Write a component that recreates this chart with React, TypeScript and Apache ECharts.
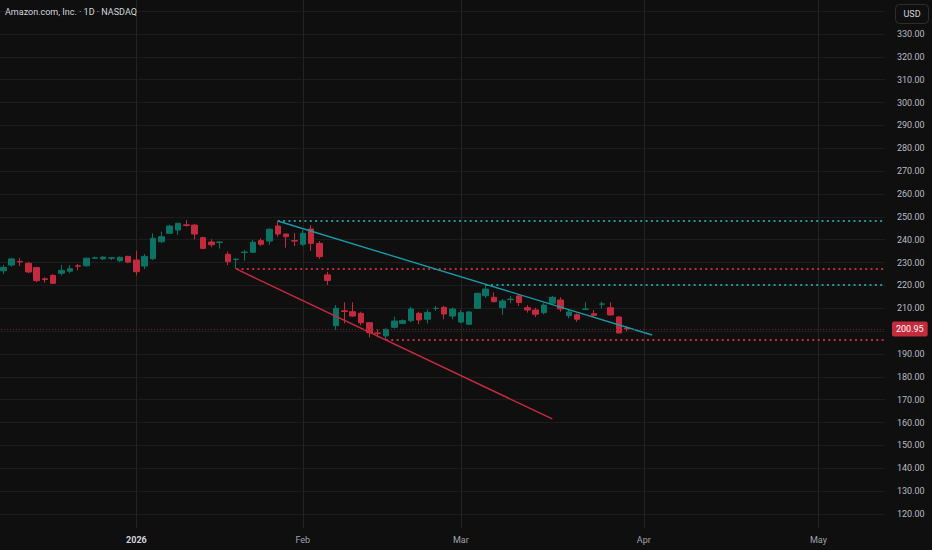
import React, { useEffect, useRef } from "react";
import * as echarts from "echarts";

// ---------- data ----------
const titleText = "Amazon.com, Inc. · 1D · NASDAQ";
const currencyText = "USD";

const holidays = ["2025-12-25", "2026-01-01", "2026-01-19", "2026-02-16", "2026-04-03"];
const firstCategoryDay = "2025-12-08"; // one bar left of the first visible candle
const categoryCount = 108; // through 2026-05-13 (right edge)
const firstCandleDay = "2025-12-09";

const monthNames = ["Jan", "Feb", "Mar", "Apr", "May", "Jun", "Jul", "Aug", "Sep", "Oct", "Nov", "Dec"];

const opens = [
  226.4, 228.9, 230.5, 229.7, 227.8, 222.9, 224.4, 225.3, 226.2, 228.6, 228.6, 231.9, 231.6, 231.9, 230.8, 232.7,
  231.1, 228.5, 231.7, 239.1, 242.8, 244.25, 246.5, 246.4, 240.9, 239.0, 238.8, 233.6, 231.3, 234.4, 234.5, 239.6, 239.4, 246.0, 242.5, 239.6,
  238.0, 244.7, 238.4, 224.6, 202.4, 208.9, 208.5, 207.8, 203.7, 199.2, 197.9, 201.7, 203.4, 204.6, 207.8, 205.2, 209.9, 210.4, 206.6,
  204.0, 203.0, 210.0, 215.5, 214.8, 210.3, 213.8, 215.4, 210.25, 209.25, 208.1, 212.2, 213.6, 206.8, 207.2, 209.5, 207.6, 211.8, 210.25, 206.2, 201.3,
];
const closes = [
  227.9, 231.6, 230.3, 225.9, 222.1, 222.6, 220.9, 226.6, 227.3, 228.4, 231.9, 232.1, 232.4, 232.1, 232.3, 230.2,
  226.0, 232.7, 240.6, 241.3, 246.0, 247.2, 246.2, 242.5, 236.2, 237.8, 239.0, 230.4, 231.5, 234.6, 238.9, 238.0, 244.6, 242.5, 241.3, 239.4,
  242.8, 238.4, 232.6, 222.2, 210.0, 208.6, 206.6, 203.7, 199.3, 199.0, 200.8, 204.4, 204.6, 209.7, 204.9, 208.2, 210.0, 207.5, 209.7,
  208.1, 208.4, 216.55, 218.4, 212.9, 213.2, 214.0, 212.5, 209.25, 207.4, 211.4, 214.8, 209.7, 208.4, 205.2, 209.7, 206.9, 211.9, 207.1, 199.2, 200.95,
];
const lows = [
  225.0, 228.2, 228.5, 225.3, 221.4, 221.2, 220.6, 224.3, 225.3, 226.6, 228.2, 231.7, 231.1, 231.1, 230.2, 229.7,
  224.4, 227.1, 231.1, 238.6, 242.5, 242.1, 245.7, 240.2, 235.9, 236.7, 236.1, 228.9, 227.2, 230.8, 234.2, 237.25, 237.7, 241.3, 236.5, 237.25,
  237.25, 235.1, 231.6, 220.2, 200.5, 203.4, 206.3, 202.6, 197.3, 197.3, 196.1, 201.2, 203.0, 203.9, 203.0, 203.4, 208.8, 205.2, 205.2,
  203.4, 202.6, 209.7, 214.5, 212.6, 207.1, 212.2, 211.0, 208.1, 206.1, 207.4, 211.9, 208.5, 205.6, 204.1, 209.25, 206.3, 210.0, 206.8, 199.0, 199.9,
];
const highs = [
  228.9, 232.1, 231.9, 230.2, 228.2, 223.5, 224.9, 228.9, 228.9, 229.4, 232.1, 232.6, 232.7, 232.4, 232.7, 233.0,
  235.2, 233.75, 242.8, 243.5, 246.6, 247.4, 248.6, 246.9, 241.3, 240.2, 239.4, 234.8, 231.9, 235.5, 239.9, 240.6, 245.0, 248.2, 242.6, 242.9,
  244.25, 246.4, 239.4, 226.0, 211.4, 212.6, 212.6, 208.5, 204.0, 200.8, 201.2, 206.3, 205.2, 210.7, 208.5, 209.5, 211.0, 211.1, 210.4,
  209.25, 208.7, 216.8, 220.2, 217.0, 214.1, 215.4, 216.25, 211.4, 210.25, 212.2, 215.4, 214.8, 209.5, 207.8, 212.6, 209.25, 212.9, 212.6, 206.6, 202.2,
];

// horizontal levels (start date, value) extending to the right edge
const levelStarts = ["2026-01-28", "2026-01-21", "2026-03-05", "2026-02-17"];
const levelValues = [248.2, 227.2, 220.2, 196.1];
const levelKinds = ["teal", "red", "teal", "red"];

// trend lines
const trendStarts = ["2026-01-28", "2026-01-21"];
const trendStartValues = [248.2, 227.2];
const trendEnds = ["2026-04-02", "2026-03-17"];
const trendEndValues = [198.3, 161.6];
const trendKinds = ["teal", "red"];

// ---------- helpers ----------
function tradingDays(start: string, count: number, skip: string[]): string[] {
  const out: string[] = [];
  const d = new Date(start + "T00:00:00Z");
  while (out.length < count) {
    const dow = d.getUTCDay();
    const s = d.toISOString().slice(0, 10);
    if (dow !== 0 && dow !== 6 && skip.indexOf(s) < 0) out.push(s);
    d.setUTCDate(d.getUTCDate() + 1);
  }
  return out;
}

const categories = tradingDays(firstCategoryDay, categoryCount, holidays);

const COLORS = {
  bg: "#0f0f0f",
  grid: "#1c1c1c",
  vgrid: "#232323",
  up: "#0b7363",
  down: "#c42a3d",
  teal: "#1a98a6",
  red: "#c62b3d",
  text: "#b8bbc2",
  title: "#d1d4dc",
  priceLine: "#6a2129",
};

const FONT = "Roboto, 'Noto Sans', sans-serif";
const SHIFT = 5; // canvas starts SHIFT px left of the page so the first bar sits at the edge

function isMonthStart(idx: number): boolean {
  if (idx <= 0) return false;
  return categories[idx].slice(0, 7) !== categories[idx - 1].slice(0, 7);
}

export default function App() {
  const ref = useRef<HTMLDivElement>(null);

  useEffect(() => {
    if (!ref.current) return;
    const chart = echarts.init(ref.current, undefined, { renderer: "svg" });

    const startIdx = categories.indexOf(firstCandleDay);
    const candleData: any[] = categories.map((_, k) => {
      const i = k - startIdx;
      if (i < 0 || i >= opens.length) return "-";
      return [opens[i], closes[i], lows[i], highs[i]];
    });
    const lastClose = closes[closes.length - 1];
    const lastCat = categories[categories.length - 1];

    const levelSeries = levelStarts.map((d, k) => ({
      type: "line",
      silent: true,
      symbol: "none",
      z: 3,
      data: [
        [d, levelValues[k]],
        [lastCat, levelValues[k]],
      ],
      lineStyle: {
        color: levelKinds[k] === "teal" ? COLORS.teal : COLORS.red,
        width: 2,
        type: [2, 3.33],
        cap: "butt",
      },
    }));

    const trendSeries = trendStarts.map((d, k) => ({
      type: "line",
      silent: true,
      symbol: "none",
      z: 4,
      data: [
        [d, trendStartValues[k]],
        [trendEnds[k], trendEndValues[k]],
      ],
      lineStyle: {
        color: trendKinds[k] === "teal" ? COLORS.teal : COLORS.red,
        width: 1.4,
      },
    }));

    chart.setOption({
      animation: false,
      backgroundColor: COLORS.bg,
      textStyle: { fontFamily: FONT },
      grid: { left: 0, right: 47, top: 0, bottom: 22, containLabel: false },
      xAxis: {
        type: "category",
        data: categories,
        boundaryGap: false,
        axisLine: { show: false },
        axisTick: { show: false },
        axisLabel: {
          interval: (idx: number) => isMonthStart(idx),
          margin: 7,
          fontSize: 9,
          color: "#a0a3ab",
          fontFamily: FONT,
          formatter: (val: string) => {
            const m = +val.slice(5, 7);
            return m === 1 ? `{yr|${val.slice(0, 4)}}` : monthNames[m - 1];
          },
          rich: {
            yr: { fontWeight: "bold", color: "#d1d4dc", fontSize: 9, fontFamily: FONT },
          },
        },
        splitLine: {
          show: true,
          interval: (idx: number) => isMonthStart(idx),
          lineStyle: { color: COLORS.vgrid, width: 1 },
        },
      },
      yAxis: {
        type: "value",
        position: "right",
        min: 113.875,
        max: 344.875,
        splitNumber: 23,
        minInterval: 10,
        maxInterval: 10,
        scale: true,
        axisLine: { show: false },
        axisTick: { show: false },
        axisLabel: {
          margin: 12,
          fontSize: 9,
          color: COLORS.text,
          fontFamily: FONT,
          showMinLabel: false,
          showMaxLabel: false,
          // labels under the currency badge and the last-price badge are covered
          formatter: (v: number) => (v > 335 || Math.abs(v - lastClose) < 5 ? "" : v.toFixed(2)),
        },
        splitLine: {
          show: true,
          showMinLine: false,
          showMaxLine: false,
          lineStyle: { color: COLORS.grid, width: 1 },
        },
      },
      graphic: [
        {
          type: "text",
          left: 5 + SHIFT,
          top: 7,
          z: 10,
          style: { text: titleText, fill: COLORS.title, fontSize: 9, fontFamily: FONT },
        },
        {
          type: "rect",
          z: 10,
          shape: { x: 895.5 + SHIFT, y: 4.5, width: 33, height: 19, r: 4 },
          style: { fill: COLORS.bg, stroke: "#2e2e2e", lineWidth: 1 },
        },
        {
          type: "text",
          z: 11,
          x: 912 + SHIFT,
          y: 14,
          style: {
            text: currencyText,
            fill: COLORS.title,
            fontSize: 9,
            fontFamily: FONT,
            align: "center",
            verticalAlign: "middle",
          },
        },
      ],
      series: [
        {
          type: "candlestick",
          data: candleData,
          barWidth: 6,
          z: 2,
          itemStyle: {
            color: COLORS.up,
            color0: COLORS.down,
            borderColor: COLORS.up,
            borderColor0: COLORS.down,
            borderWidth: 1,
          },
          markLine: {
            silent: true,
            symbol: "none",
            animation: false,
            data: [{ yAxis: lastClose }],
            lineStyle: { color: COLORS.priceLine, width: 1, type: [1, 2] },
            label: {
              show: true,
              position: "end",
              distance: 7,
              formatter: () => lastClose.toFixed(2),
              color: "#ffffff",
              backgroundColor: COLORS.red,
              padding: [3, 4, 2, 4],
              borderRadius: 2,
              fontSize: 9,
              lineHeight: 10,
              fontFamily: FONT,
            },
          },
        },
        ...levelSeries,
        ...trendSeries,
      ],
    });

    return () => chart.dispose();
  }, []);

  return (
    <div style={{ position: "fixed", left: 0, top: 0, width: 932, height: 550, overflow: "hidden", background: COLORS.bg }}>
      <div
        ref={ref}
        style={{ position: "absolute", left: -SHIFT, top: 0, width: 932 + SHIFT, height: 550 }}
      />
    </div>
  );
}
